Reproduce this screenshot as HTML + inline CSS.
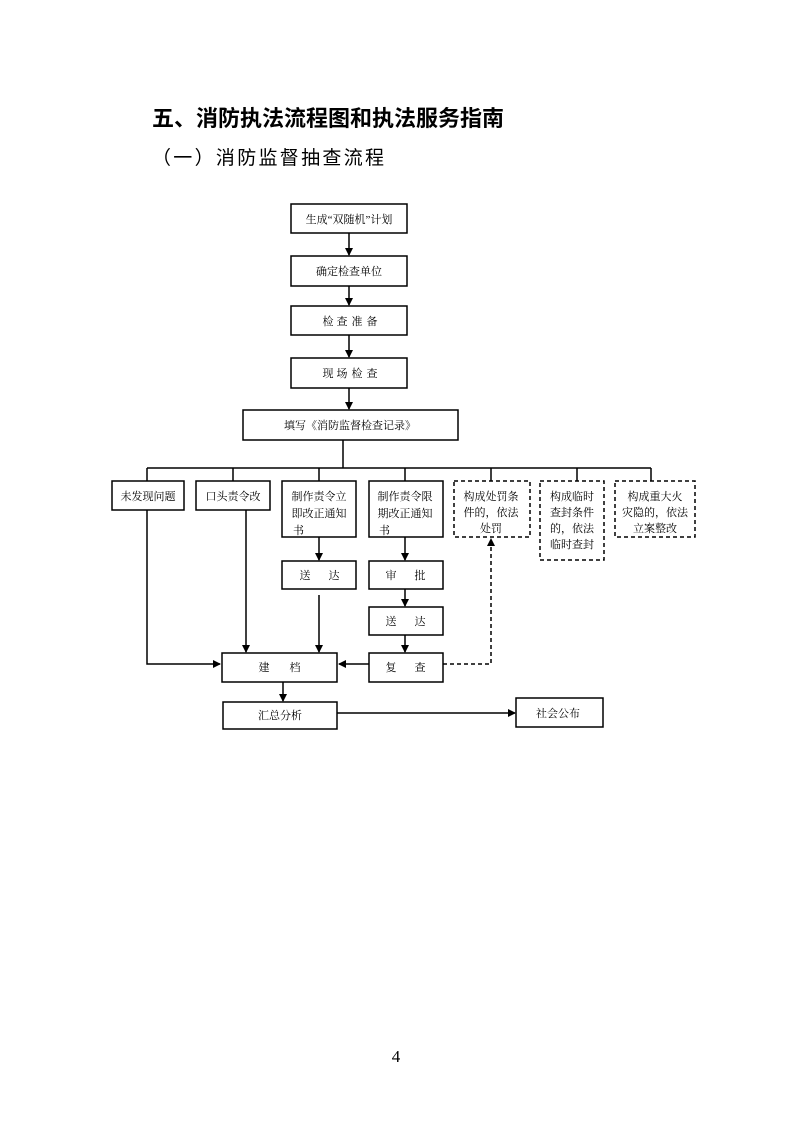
<!DOCTYPE html>
<html><head><meta charset="utf-8"><style>
body{margin:0;background:#fff;}
svg{display:block;}
text{font-family:"Liberation Serif","Noto Serif CJK SC","Noto Sans CJK SC",serif;fill:#000;}
.b{font-size:11px;}
</style></head><body>
<svg width="793" height="1122" viewBox="0 0 793 1122" xmlns="http://www.w3.org/2000/svg">
<defs><marker id="a" markerWidth="8" markerHeight="8" refX="7" refY="4" orient="auto" markerUnits="userSpaceOnUse"><path d="M0,0 L8,4 L0,8 z" fill="#000"/></marker></defs>
<text x="152" y="126" style="font-size:22px;font-weight:bold;font-family:'Liberation Sans','Noto Sans CJK SC',sans-serif">五、消防执法流程图和执法服务指南</text>
<text x="152" y="164" style="font-size:19px;letter-spacing:2.3px;font-family:'Liberation Sans','Noto Sans CJK SC',sans-serif">（一）消防监督抽查流程</text>
<g fill="none" stroke="#000" stroke-width="1.5">
<rect x="291" y="204" width="116" height="29"/>
<rect x="291" y="256" width="116" height="30"/>
<rect x="291" y="306" width="116" height="29"/>
<rect x="291" y="358" width="116" height="30"/>
<rect x="243" y="410" width="215" height="30"/>
<rect x="112" y="481" width="72" height="29"/>
<rect x="196" y="481" width="74" height="29"/>
<rect x="282" y="481" width="74" height="56"/>
<rect x="369" y="481" width="74" height="56"/>
<rect x="282" y="561" width="74" height="28"/>
<rect x="369" y="561" width="74" height="28"/>
<rect x="369" y="607" width="74" height="28"/>
<rect x="369" y="653" width="74" height="29"/>
<rect x="222" y="653" width="115" height="29"/>
<rect x="223" y="702" width="114" height="27"/>
<rect x="516" y="698" width="87" height="29"/>
<g stroke-dasharray="4,3">
<rect x="454" y="481" width="76" height="56"/>
<rect x="540" y="481" width="64" height="79"/>
<rect x="615" y="481" width="80" height="56"/>
<polyline points="443,664 491,664 491,539" marker-end="url(#a)"/>
</g>
<line x1="349" y1="233" x2="349" y2="255" marker-end="url(#a)"/>
<line x1="349" y1="286" x2="349" y2="305" marker-end="url(#a)"/>
<line x1="349" y1="335" x2="349" y2="357" marker-end="url(#a)"/>
<line x1="349" y1="388" x2="349" y2="409" marker-end="url(#a)"/>
<line x1="343" y1="440" x2="343" y2="468"/>
<line x1="147" y1="468" x2="651" y2="468"/>
<line x1="147" y1="468" x2="147" y2="481"/>
<line x1="233" y1="468" x2="233" y2="481"/>
<line x1="319" y1="468" x2="319" y2="481"/>
<line x1="405" y1="468" x2="405" y2="481"/>
<line x1="491" y1="468" x2="491" y2="481"/>
<line x1="577" y1="468" x2="577" y2="481"/>
<line x1="651" y1="468" x2="651" y2="481"/>
<line x1="319" y1="537" x2="319" y2="560" marker-end="url(#a)"/>
<line x1="405" y1="537" x2="405" y2="560" marker-end="url(#a)"/>
<line x1="405" y1="589" x2="405" y2="606" marker-end="url(#a)"/>
<line x1="405" y1="635" x2="405" y2="652" marker-end="url(#a)"/>
<polyline points="147,510 147,664 220,664" marker-end="url(#a)"/>
<line x1="246" y1="510" x2="246" y2="652" marker-end="url(#a)"/>
<line x1="319" y1="595" x2="319" y2="652" marker-end="url(#a)"/>
<line x1="369" y1="664" x2="339" y2="664" marker-end="url(#a)"/>
<line x1="283" y1="682" x2="283" y2="701" marker-end="url(#a)"/>
<line x1="337" y1="713" x2="515" y2="713" marker-end="url(#a)"/>
</g>
<g class="b" text-anchor="middle">
<text x="349" y="223">生成“双随机”计划</text>
<text x="349" y="275">确定检查单位</text>
<text x="328" y="325">检</text><text x="342" y="325">查</text><text x="357" y="325">准</text><text x="372" y="325">备</text>
<text x="328" y="377">现</text><text x="342" y="377">场</text><text x="357" y="377">检</text><text x="372" y="377">查</text>
<text x="350" y="429">填写《消防监督检查记录》</text>
<text x="148" y="500">未发现问题</text>
<text x="233" y="500">口头责令改</text>
<text x="319" y="500">制作责令立</text><text x="319" y="517">即改正通知</text>
<text x="405" y="500">制作责令限</text><text x="405" y="517">期改正通知</text>
<text x="491" y="500">构成处罚条</text><text x="491" y="516">件的，依法</text><text x="491" y="532">处罚</text>
<text x="572" y="500">构成临时</text><text x="572" y="516">查封条件</text><text x="572" y="532">的，依法</text><text x="572" y="548">临时查封</text>
<text x="655" y="500">构成重大火</text><text x="655" y="516">灾隐的，依法</text><text x="655" y="532">立案整改</text>
<text x="305" y="579">送</text><text x="334" y="579">达</text>
<text x="391" y="579">审</text><text x="420" y="579">批</text>
<text x="391" y="625">送</text><text x="420" y="625">达</text>
<text x="391" y="671">复</text><text x="420" y="671">查</text>
<text x="264" y="671">建</text><text x="295" y="671">档</text>
<text x="280" y="719">汇总分析</text>
<text x="558" y="717">社会公布</text>
</g>
<text x="293" y="534" class="b">书</text>
<text x="379" y="534" class="b">书</text>
<text x="396" y="1062" style="font-size:17px" text-anchor="middle">4</text>
</svg>
</body></html>
